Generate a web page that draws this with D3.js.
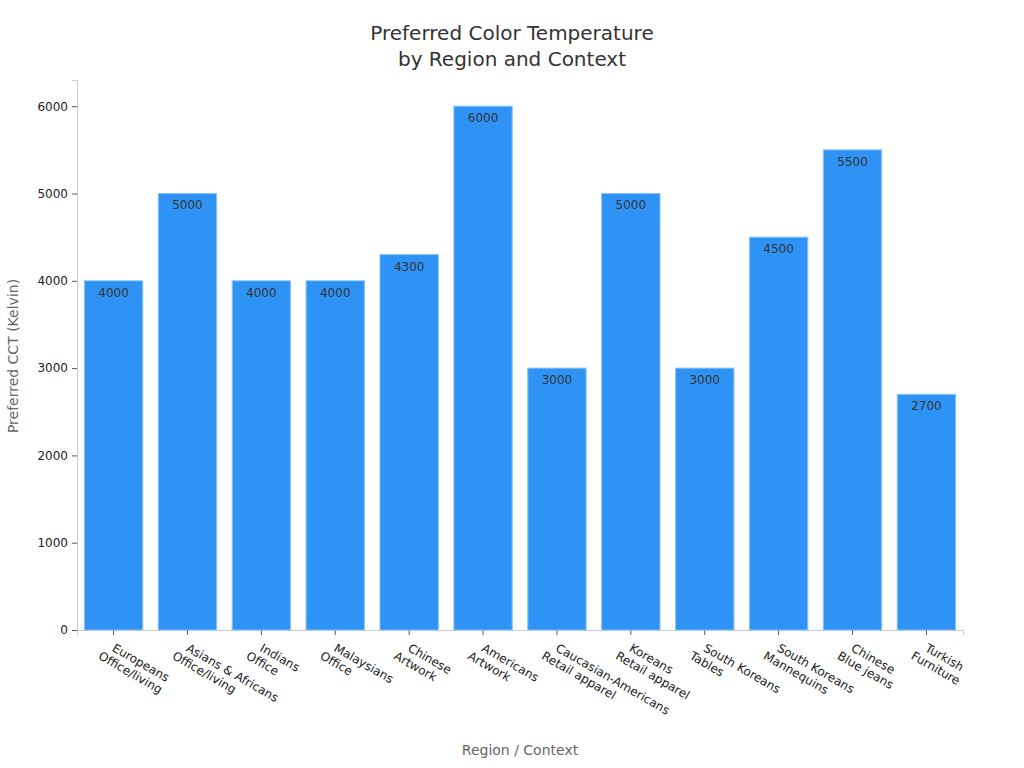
<!DOCTYPE html>
<html><head><meta charset="utf-8">
<script src="https://cdn.jsdelivr.net/npm/d3@7"></script>
<style>body{margin:0;background:#fff;font-family:"DejaVu Sans",sans-serif}</style>
</head><body><svg id="chart"></svg>
<script>
// chart data
const regions = ["Europeans","Asians & Africans","Indians","Malaysians","Chinese","Americans","Caucasian-Americans","Koreans","South Koreans","South Koreans","Chinese","Turkish"];
const contexts = ["Office/living","Office/living","Office","Office","Artwork","Artwork","Retail apparel","Retail apparel","Tables","Mannequins","Blue jeans","Furniture"];
const cctValues = [4000,5000,4000,4000,4300,6000,3000,5000,3000,4500,5500,2700];
const yTicks = [0,1000,2000,3000,4000,5000,6000];

let svgWidth = 1024, svgHeight = 768;
let margin = {top: 80, right: 61, bottom: 138, left: 77};
let innerWidth = svgWidth - margin.left - margin.right;
let innerHeight = svgHeight - margin.top - margin.bottom;

let svg = d3.select("#chart").attr("width", svgWidth).attr("height", svgHeight);

let xScale = d3.scaleBand().domain(d3.range(cctValues.length)).range([0, innerWidth]).paddingInner(0.21).paddingOuter(0.1);
let yScale = d3.scaleLinear().domain([0, 6300]).range([innerHeight, 0]);

let g = svg.append("g").attr("transform", `translate(${margin.left},${margin.top})`);

//axes
let yAxis = g.append("g").call(d3.axisLeft(yScale).tickValues(yTicks).tickFormat(d3.format("d")).tickSize(5).tickPadding(4));
yAxis.select(".domain").attr("stroke", "#ccc");
yAxis.selectAll(".tick line").attr("stroke", "#555");
yAxis.selectAll("text").attr("font-size", 12).attr("fill", "#222").attr("font-family", "DejaVu Sans");

let xAxis = g.append("g").attr("transform", `translate(0,${innerHeight})`)
    .call(d3.axisBottom(xScale).tickSize(5).tickFormat(""));
xAxis.select(".domain").attr("stroke", "#ccc");
xAxis.selectAll(".tick line").attr("stroke", "#555");
xAxis.selectAll(".tick").append("text")
    .attr("transform", "translate(2,13) rotate(30)")
    .attr("text-anchor", "start")
    .attr("font-size", 12).attr("fill", "#222").attr("font-family", "DejaVu Sans")
    .each(function(d){
        let t = d3.select(this);
        t.append("tspan").attr("x", 0).attr("dy", "0.71em").text(regions[d]);
        t.append("tspan").attr("x", -8).attr("dy", "1.15em").text(contexts[d]);
    });

//bars
g.selectAll("rect.bar").data(cctValues).enter().append("rect")
    .attr("class", "bar")
    .attr("x", (d,i) => xScale(i))
    .attr("y", d => yScale(d))
    .attr("width", xScale.bandwidth())
    .attr("height", d => innerHeight - yScale(d))
    .attr("fill", "#2e93f5")
    .attr("stroke", "#8cc4f8").attr("stroke-width", 1);

//value labels
g.selectAll("text.val").data(cctValues).enter().append("text")
    .attr("x", (d,i) => xScale(i) + xScale.bandwidth()/2)
    .attr("y", d => yScale(d) + 16)
    .attr("text-anchor", "middle").attr("font-size", 12).attr("fill", "#333")
    .text(d => d);

//titles
svg.append("text").attr("x", 512).attr("y", 40).attr("text-anchor", "middle")
    .attr("font-size", 20).attr("fill", "#333").text("Preferred Color Temperature");
svg.append("text").attr("x", 512).attr("y", 66).attr("text-anchor", "middle")
    .attr("font-size", 20).attr("fill", "#333").text("by Region and Context");
svg.append("text").attr("x", 520).attr("y", 755).attr("text-anchor", "middle")
    .attr("font-size", 14).attr("fill", "#666").text("Region / Context");
svg.append("text").attr("transform", "translate(18,356) rotate(-90)").attr("text-anchor", "middle")
    .attr("font-size", 14).attr("fill", "#666").text("Preferred CCT (Kelvin)");
</script></body></html>
